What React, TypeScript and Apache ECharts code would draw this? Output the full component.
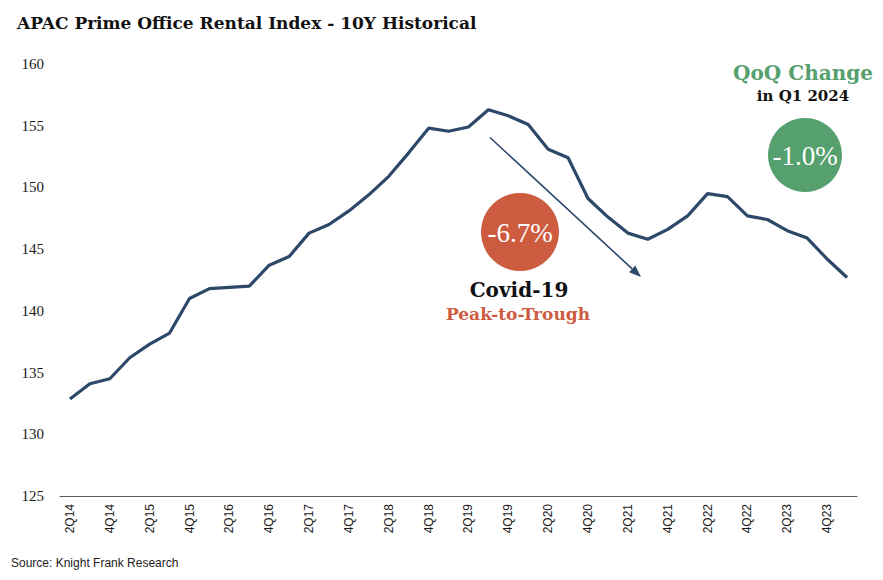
import React, { useEffect, useRef } from "react";
import * as echarts from "echarts";

const categories = [
  "2Q14","3Q14","4Q14","1Q15","2Q15","3Q15","4Q15","1Q16","2Q16","3Q16",
  "4Q16","1Q17","2Q17","3Q17","4Q17","1Q18","2Q18","3Q18","4Q18","1Q19",
  "2Q19","3Q19","4Q19","1Q20","2Q20","3Q20","4Q20","1Q21","2Q21","3Q21",
  "4Q21","1Q22","2Q22","3Q22","4Q22","1Q23","2Q23","3Q23","4Q23","1Q24",
];
const indexValues = [
  132.85,134.1,134.5,136.2,137.3,138.2,141.0,141.8,141.9,142.0,
  143.7,144.4,146.3,147.0,148.1,149.4,150.9,152.8,154.8,154.55,
  154.9,156.3,155.8,155.1,153.1,152.4,149.1,147.6,146.3,145.8,
  146.6,147.7,149.5,149.25,147.7,147.4,146.5,145.9,144.2,142.7,
];
const yTicks = [125, 130, 135, 140, 145, 150, 155, 160];

const NAVY = "#2D4869";
const RED = "#CD5B3F";
const GREEN = "#55A06E";
const SERIF = "'Liberation Serif', 'DejaVu Serif', serif";
const WIDE_SERIF = "'DejaVu Serif', 'Liberation Serif', serif";

export default function App() {
  const ref = useRef<HTMLDivElement>(null);
  useEffect(() => {
    document.body.style.margin = "0";
    if (!ref.current) return;
    const chart = echarts.init(ref.current, null, { renderer: "svg" });
    const tip = [641, 277];
    const dir = [0.734, 0.679];
    const perp = [-0.679, 0.734];
    const headLen = 12;
    const headW = 4.5;
    const base = [tip[0] - headLen * dir[0], tip[1] - headLen * dir[1]];
    chart.setOption({
      animation: false,
      backgroundColor: "#ffffff",
      grid: { left: 60, right: 26, top: 64, bottom: 84, containLabel: false },
      xAxis: {
        type: "category",
        data: categories,
        boundaryGap: true,
        axisLine: { show: true, lineStyle: { color: "#595959", width: 1 } },
        axisTick: { show: false },
        axisLabel: {
          rotate: 90,
          interval: 1,
          margin: 8,
          fontFamily: "'Liberation Sans', Arial, sans-serif",
          fontSize: 12,
          color: "#1a1a1a",
        },
        splitLine: { show: false },
      },
      yAxis: {
        type: "value",
        min: yTicks[0],
        max: yTicks[yTicks.length - 1],
        interval: 5,
        axisLine: { show: false },
        axisTick: { show: false },
        splitLine: { show: false },
        axisLabel: {
          margin: 16,
          fontFamily: SERIF,
          fontSize: 15,
          color: "#1a1a1a",
        },
      },
      series: [
        {
          type: "line",
          data: indexValues,
          symbol: "none",
          lineStyle: { color: NAVY, width: 3.2 },
          z: 3,
        },
      ],
      graphic: [
        {
          type: "text",
          left: 17,
          top: 14,
          style: {
            text: "APAC Prime Office Rental Index - 10Y Historical",
            font: `bold 17px ${WIDE_SERIF}`,
            fill: "#111111",
          },
        },
        {
          type: "text",
          left: 11,
          top: 557,
          style: {
            text: "Source: Knight Frank Research",
            font: "12px 'Liberation Sans', Arial, sans-serif",
            fill: "#222222",
          },
        },
        {
          type: "line",
          shape: { x1: 490, y1: 137.5, x2: base[0], y2: base[1] },
          style: { stroke: NAVY, lineWidth: 1.6 },
          z: 5,
        },
        {
          type: "polygon",
          shape: {
            points: [
              tip,
              [base[0] + headW * perp[0], base[1] + headW * perp[1]],
              [base[0] - headW * perp[0], base[1] - headW * perp[1]],
            ],
          },
          style: { fill: NAVY },
          z: 5,
        },
        {
          type: "circle",
          shape: { cx: 520, cy: 232, r: 39 },
          style: { fill: RED },
          z: 6,
        },
        {
          type: "text",
          x: 520,
          y: 233,
          style: {
            text: "-6.7%",
            font: `27px ${SERIF}`,
            fill: "#ffffff",
            align: "center",
            verticalAlign: "middle",
          },
          z: 7,
        },
        {
          type: "text",
          x: 519,
          y: 290,
          style: {
            text: "Covid-19",
            font: `bold 20px ${WIDE_SERIF}`,
            fill: "#111111",
            align: "center",
            verticalAlign: "middle",
          },
          z: 7,
        },
        {
          type: "text",
          x: 518,
          y: 314,
          style: {
            text: "Peak-to-Trough",
            font: `bold 17px ${WIDE_SERIF}`,
            fill: RED,
            align: "center",
            verticalAlign: "middle",
          },
          z: 7,
        },
        {
          type: "circle",
          shape: { cx: 805, cy: 155, r: 37 },
          style: { fill: GREEN },
          z: 6,
        },
        {
          type: "text",
          x: 805,
          y: 156,
          style: {
            text: "-1.0%",
            font: `27px ${SERIF}`,
            fill: "#ffffff",
            align: "center",
            verticalAlign: "middle",
          },
          z: 7,
        },
        {
          type: "text",
          x: 803,
          y: 73,
          style: {
            text: "QoQ Change",
            font: `bold 20px ${WIDE_SERIF}`,
            fill: GREEN,
            align: "center",
            verticalAlign: "middle",
          },
          z: 7,
        },
        {
          type: "text",
          x: 803,
          y: 96,
          style: {
            text: "in Q1 2024",
            font: `bold 15px ${WIDE_SERIF}`,
            fill: "#111111",
            align: "center",
            verticalAlign: "middle",
          },
          z: 7,
        },
      ],
    });
    return () => chart.dispose();
  }, []);
  return <div ref={ref} style={{ width: 883, height: 580 }} />;
}
